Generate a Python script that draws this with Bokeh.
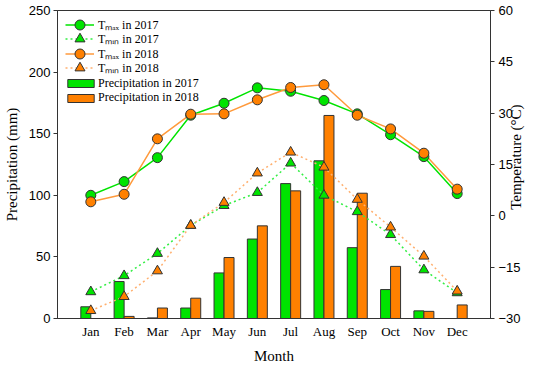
import math
from bokeh.plotting import figure
from bokeh.models import Range1d, LinearAxis, FixedTicker, Legend, LegendItem
from bokeh.transform import dodge
from bokeh.models import ColumnDataSource
from bokeh.embed import file_html
from bokeh.resources import INLINE

months = ["Jan", "Feb", "Mar", "Apr", "May", "Jun", "Jul", "Aug", "Sep", "Oct", "Nov", "Dec"]
month_pos = [1, 2, 3, 4, 5, 6, 7, 8, 9, 10, 11, 12]

precip_2017 = [9.5, 30, 0.5, 8.5, 37, 64.5, 109.5, 128, 57.5, 23.5, 6.2, 0]
precip_2018 = [0, 1.7, 8.5, 16.5, 49.5, 75.2, 103.6, 164.8, 101.7, 42.3, 5.8, 11]

tmax_2017 = [6.0, 10.0, 17.0, 29.4, 32.9, 37.4, 36.4, 33.7, 29.8, 23.7, 17.3, 6.5]
tmin_2017 = [-22.2, -17.5, -11.0, -2.8, 3.0, 6.8, 15.4, 6.0, 1.2, -5.5, -15.8, -22.5]
tmax_2018 = [4.1, 6.3, 22.5, 29.7, 29.8, 33.9, 37.5, 38.3, 29.4, 25.4, 18.3, 7.8]
tmin_2018 = [-27.7, -23.6, -16.1, -2.8, 3.9, 12.5, 18.6, 14.2, 4.8, -3.3, -11.8, -22.0]

GREEN = "#00E400"
ORANGE = "#FF8000"
ORANGE_LINE = "#FF9A3C"
GREEN_DOT = "#33EE44"
ORANGE_DOT = "#FFB070"
EDGE = "#333333"

src = ColumnDataSource(dict(m=month_pos, p17=precip_2017, p18=precip_2018,
                            tx17=tmax_2017, tn17=tmin_2017, tx18=tmax_2018, tn18=tmin_2018))

B_LEFT, B_RIGHT, B_TOP, B_BOTTOM = 54, 44, 10, 48
W, H = 534, 366
p = figure(width=W, height=H, x_range=Range1d(0, 13), y_range=Range1d(0, 250),
           output_backend="svg", toolbar_location=None,
           min_border_left=B_LEFT, min_border_right=B_RIGHT,
           min_border_top=B_TOP, min_border_bottom=B_BOTTOM)
p.extra_y_ranges = {"temp": Range1d(-30, 60)}
p.xgrid.visible = False
p.ygrid.visible = False
p.outline_line_color = EDGE
p.outline_line_alpha = 1
p.background_fill_color = "white"
p.border_fill_color = "white"

b17 = p.vbar(x=dodge("m", -0.15), top="p17", width=0.3, source=src,
             fill_color=GREEN, line_color=EDGE, line_width=1)
b18 = p.vbar(x=dodge("m", 0.15), top="p18", width=0.3, source=src,
             fill_color=ORANGE, line_color=EDGE, line_width=1)

l_tn17 = p.line("m", "tn17", source=src, y_range_name="temp", line_color=GREEN_DOT,
                line_width=1.5, line_dash="2 3")
l_tn18 = p.line("m", "tn18", source=src, y_range_name="temp", line_color=ORANGE_DOT,
                line_width=1.5, line_dash="2 3")
l_tx17 = p.line("m", "tx17", source=src, y_range_name="temp", line_color=GREEN, line_width=1.5)
l_tx18 = p.line("m", "tx18", source=src, y_range_name="temp", line_color=ORANGE_LINE, line_width=1.5)

s_tn17 = p.scatter("m", "tn17", source=src, y_range_name="temp", marker="triangle", size=10,
                   fill_color=GREEN, line_color=EDGE, line_width=1)
s_tn18 = p.scatter("m", "tn18", source=src, y_range_name="temp", marker="triangle", size=10,
                   fill_color=ORANGE, line_color=EDGE, line_width=1)
s_tx17 = p.scatter("m", "tx17", source=src, y_range_name="temp", marker="circle", size=10,
                   fill_color=GREEN, line_color=EDGE, line_width=1)
s_tx18 = p.scatter("m", "tx18", source=src, y_range_name="temp", marker="circle", size=10,
                   fill_color=ORANGE, line_color=EDGE, line_width=1)

TICK_FONT = "Liberation Sans"
SERIF = "Liberation Serif"

# left axis
ya = p.yaxis[0]
ya.ticker = FixedTicker(ticks=[0, 50, 100, 150, 200, 250])
ya.minor_tick_line_color = None
ya.major_tick_in = 0
ya.major_tick_out = 4
ya.major_label_standoff = 3
ya.major_label_text_font = TICK_FONT
ya.major_label_text_font_size = "13px"
ya.major_label_text_color = "black"
ya.axis_line_color = EDGE
ya.major_tick_line_color = EDGE
ya.axis_label = "Precipitation (mm)"
ya.axis_label_text_font = SERIF
ya.axis_label_text_font_style = "normal"
ya.axis_label_text_font_size = "15px"
ya.axis_label_text_color = "black"
ya.axis_label_standoff = 6

# bottom axis
xa = p.xaxis[0]
xa.ticker = FixedTicker(ticks=month_pos)
xa.major_label_overrides = {m: name for m, name in zip(month_pos, months)}
xa.minor_tick_line_color = None
xa.major_tick_in = 0
xa.major_tick_out = 0
xa.major_label_standoff = 5
xa.major_label_text_font = SERIF
xa.major_label_text_font_size = "13px"
xa.major_label_text_color = "black"
xa.axis_line_color = EDGE
xa.axis_label = "Month"
xa.axis_label_text_font = SERIF
xa.axis_label_text_font_style = "normal"
xa.axis_label_text_font_size = "15px"
xa.axis_label_text_color = "black"
xa.axis_label_standoff = 6

# right axis (title reads bottom-to-top, starting from the lower end of the axis)
ra = LinearAxis(y_range_name="temp", ticker=FixedTicker(ticks=[-30, -15, 0, 15, 30, 45, 60]))
ra.major_label_overrides = {-30: "\u221230", -15: "\u221215"}
ra.minor_tick_line_color = None
ra.major_tick_in = 0
ra.major_tick_out = 4
ra.major_label_standoff = 4
ra.major_label_text_font = TICK_FONT
ra.major_label_text_font_size = "13px"
ra.major_label_text_color = "black"
ra.axis_line_color = EDGE
ra.major_tick_line_color = EDGE
ra.axis_label = "\u00a0" * 29 + "Temperature (\u00b0C)"
ra.axis_label_text_font = SERIF
ra.axis_label_text_font_style = "normal"
ra.axis_label_text_font_size = "15px"
ra.axis_label_text_color = "black"
ra.axis_label_orientation = math.pi / 2
ra.axis_label_align = "start"
ra.axis_label_standoff = -8
p.add_layout(ra, "right")

# legend: one Legend per entry so each row can be placed exactly
frame_h = H - B_TOP - B_BOTTOM


def add_entry(label, renderers, center_y, glyph_w, glyph_h, vx, standoff, item_h):
    leg = Legend(items=[LegendItem(label=label, renderers=renderers)],
                 location=(vx, frame_h - (center_y - B_TOP) - item_h / 2))
    leg.margin = 0
    leg.padding = 0
    leg.spacing = 0
    leg.glyph_width = glyph_w
    leg.glyph_height = glyph_h
    leg.label_height = glyph_h
    leg.label_standoff = standoff
    leg.label_text_font = SERIF
    leg.label_text_font_size = "12px"
    leg.label_text_color = "black"
    leg.border_line_color = None
    leg.background_fill_alpha = 0
    p.add_layout(leg)


add_entry("T\u2098\u2090\u2093 in 2017", [l_tx17, s_tx17], 24.3, 29, 25, 8, 4, 25)
add_entry("T\u2098\u1d62\u2099 in 2017", [l_tn17, s_tn17], 38.5, 29, 25, 8, 4, 25)
add_entry("T\u2098\u2090\u2093 in 2018", [l_tx18, s_tx18], 53.0, 29, 25, 8, 4, 25)
add_entry("T\u2098\u1d62\u2099 in 2018", [l_tn18, s_tn18], 67.7, 29, 25, 8, 4, 25)
add_entry("Precipitation in 2017", [b17], 82.5, 33, 10, 7, 1, 16)
add_entry("Precipitation in 2018", [b18], 97.3, 33, 10, 7, 1, 16)

open("out.html", "w").write(file_html(p, INLINE))
